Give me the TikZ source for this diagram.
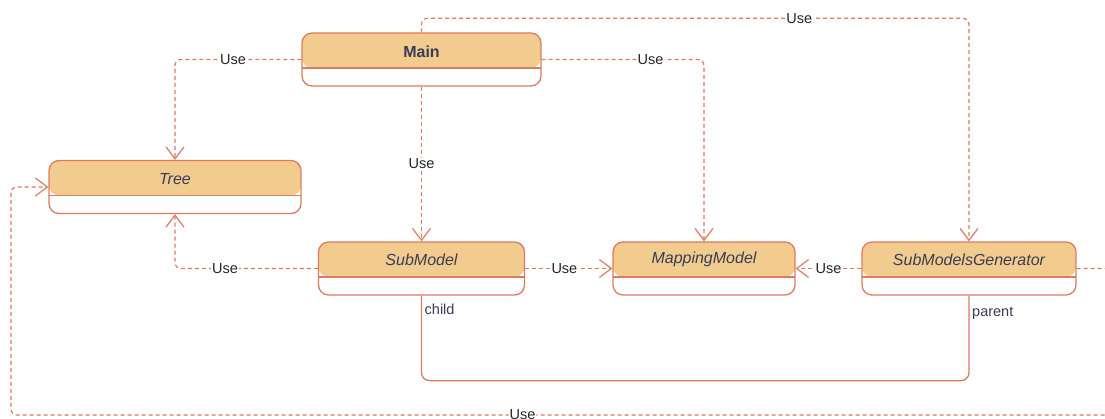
\documentclass[tikz,border=0pt]{standalone}
\usepackage{fontspec}
\setmainfont{Liberation Sans}
\usetikzlibrary{arrows.meta,calc}
\definecolor{edge}{HTML}{E07A5F}
\definecolor{hdr}{HTML}{F2CC8F}
\definecolor{ink}{HTML}{393C56}

\tikzset{
  cls/.style={draw=edge, line width=1.3pt, rounded corners=10pt, fill=white,
    inner sep=0pt, minimum height=53pt,
    path picture={
      \fill[hdr] (path picture bounding box.north west) rectangle
        ([yshift=-35pt]path picture bounding box.north east);
      \draw[edge, line width=1.3pt]
        ([yshift=-35pt]path picture bounding box.north west) --
        ([yshift=-35pt]path picture bounding box.north east);}},
  clsname/.style={font=\fontsize{16}{19}\selectfont, text=ink, inner sep=0pt},
  use/.style={draw=edge, line width=1.2pt, dash pattern=on 4pt off 3pt,
    rounded corners=6pt, -{Straight Barb[length=12pt,width=18pt]}},
  uselbl/.style={fill=white, inner sep=1pt, font=\fontsize{14.5}{17}\selectfont,
    text=black!85},
  role/.style={font=\fontsize{14.5}{17}\selectfont, text=ink, anchor=west,
    inner sep=1pt},
}

\begin{document}
\begin{tikzpicture}[x=1pt,y=-1pt]
\useasboundingbox (0,0) rectangle (1105,419);

% classes
\node[cls, minimum width=239pt] (main) at (421.5,59.5) {};
\node[cls, minimum width=252pt] (tree) at (175,187) {};
\node[cls, minimum width=206pt] (sub)  at (421.5,268.5) {};
\node[cls, minimum width=182pt] (map)  at (704,268.5) {};
\node[cls, minimum width=214pt] (smg)  at (969,268.5) {};

\node[clsname, font=\fontsize{16}{19}\selectfont\bfseries] (main-t) at ([yshift=-19pt]main.north) {Main};
\node[clsname, font=\fontsize{16}{19}\selectfont\itshape] (tree-t) at ([yshift=-19.5pt]tree.north) {Tree};
\node[clsname, font=\fontsize{16}{19}\selectfont\itshape] (sub-t)  at ([yshift=-18.5pt]sub.north) {SubModel};
\node[clsname, font=\fontsize{16}{19}\selectfont\itshape] (map-t)  at ([yshift=-18.5pt]map.north) {MappingModel};
\node[clsname, font=\fontsize{16}{19}\selectfont\itshape] (smg-t)  at ([yshift=-18.5pt]smg.north) {SubModelsGenerator};

% dependencies
\draw[use] (main.west) -- (main.west -| tree.north) node[uselbl,pos=0.54]{Use} -- (tree.north);
\draw[use] (main.east) -- (main.east -| map.north) node[uselbl,pos=0.67]{Use} -- (map.north);
\draw[use] (main.south) -- node[uselbl]{Use} (sub.north);
\draw[use] (main.north) -- ++(0,-14) coordinate (top)
  -- (top -| smg.north) node[uselbl,pos=0.69]{Use} -- (smg.north);
\draw[use] (sub.west) -- (sub.west -| tree.south) node[uselbl,pos=0.65]{Use} -- (tree.south);
\draw[use] (sub.east) -- node[uselbl,pos=0.45]{Use} (map.west);
\draw[use] (smg.west) -- node[uselbl]{Use} (map.east);

\coordinate (rgt) at (1118,268.5);
\coordinate (rb)  at (1118,415);
\coordinate (lb)  at (11,415);
\coordinate (lt)  at (11,187);
\draw[use] (smg.east) -- (rgt) -- (rb) -- node[uselbl,pos=0.538]{Use} (lb) -- (lt) -- (tree.west);

% association
\draw[edge, line width=1.3pt, rounded corners=8pt] (sub.south) -- ++(0,85) -| (smg.south);
\node[role] (child)  at ([xshift=2pt,yshift=-14pt]sub.south) {child};
\node[role] (parent) at ([xshift=2pt,yshift=-18pt]smg.south) {parent};
\end{tikzpicture}
\end{document}
